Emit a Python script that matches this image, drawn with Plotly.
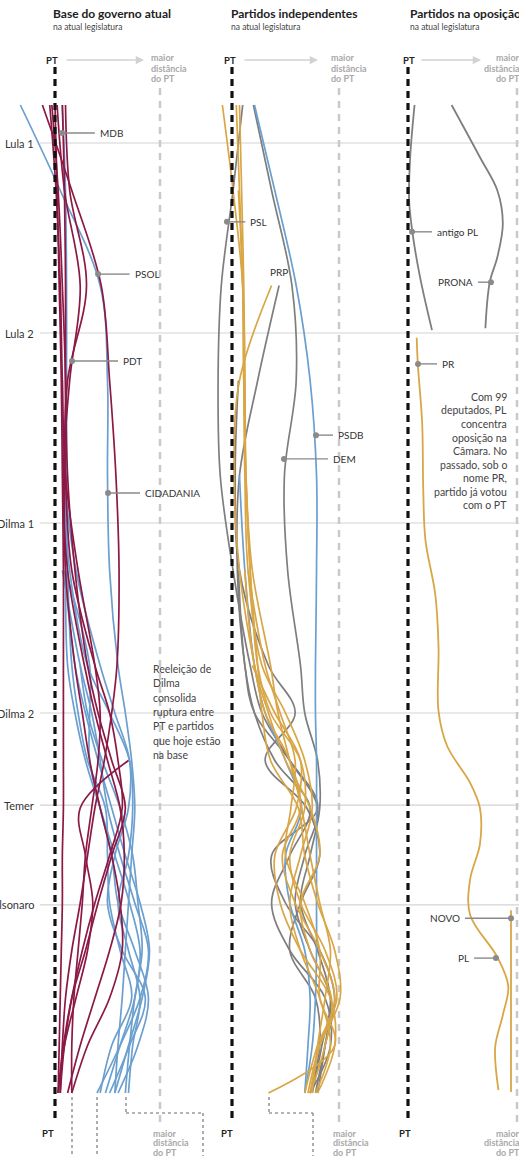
import plotly.graph_objects as go

W, H = 519, 1156
N = None

# ---------------- data ----------------
# time grid (years) shared by the first two panels
YEARS = [2002.2, 2004, 2006, 2008, 2010, 2012, 2014, 2015, 2016, 2017, 2018, 2019, 2020, 2021, 2022, 2023]

# distance from PT (0 = PT, 100 = greatest distance) -- "Base do governo atual"
BASE_BLUE = [
    [-33, 5, 43, 50, 50, 52, 60, 67, 73, 76, 73, 70, 67, 64, 60, 57],   # CIDADANIA
    [7, 10, 11, 11, 11, 10, 12, 19, 29, 43, 57, 71, 81, 76, 62, 48],    # MDB
    [N, N, N, N, N, 7, 24, 35, 43, 50, 62, 76, 89, 81, 62, 40],
    [N, N, N, N, N, 9, 19, 29, 41, 54, 67, 81, 90, 83, 70, 57],
    [N, N, N, N, N, N, 24, 31, 45, 62, 74, 79, 83, 76, 71, 67],
    [N, N, N, N, 8, 14, 31, 52, 71, 74, 70, 60, 70, 81, 74, 70],
    [N, N, N, N, N, 10, 33, 33, 33, 43, 54, 60, 76, 89, 79, 60],
    [N, N, N, N, 10, 12, 16, 22, 31, 48, 50, 52, 62, 73, 54, 43],
    [N, N, N, 7, 9, 20, 43, 57, 71, 70, 57, 50, 64, 86, 71, 52],
]
BASE_RED = [
    [-12, 16, 44, 52, 58, 61, 59, 54, 47, 38, 31, 24, 16, 10, 7, 5],   # PSOL
    [10, 14, 30, 12, 9, 10, 19, 26, 33, 43, 54, 62, 64, 52, 31, 16],   # PDT
    [2, 9, 24, 14, 8, 12, 28, 38, 50, 62, 66, 63, 52, 38, 24, 12],
    [0, 2, 4, 6, 7, 8, 8, 8, 8, 8, 7, 7, 6, 5, 4, 3],
    [N, N, N, N, N, N, N, N, 70, 24, 29, 36, 31, 20, 9, 3],
    [-3, 3, 7, 10, 10, 16, 38, 52, 60, 64, 52, 38, 26, 16, 9, 5],
    [-5, 1, 5, 7, 10, 22, 38, 43, 41, 35, 29, 26, 22, 18, 16, 16],
    [7, 9, 10, 10, 12, 19, 31, 41, 54, 67, 54, 41, 29, 16, 8, 3],
]

# "Partidos independentes"
INDEP_GRAY = [
    [10, 1, -10, -13, -11, 1, 17, 28, 54, 80, 68, 59, 73, 92, 84, 75],   # PSL
    [20, 37, 56, 60, 49, 52, 64, 68, 80, 82, 73, 64, 80, 92, 87, 80],    # DEM
    [N, N, 44, 24, 7, 5, 12, 21, 40, 73, 54, 37, 54, 87, 92, 73],        # PRP
    [N, N, N, 6, 3, 7, 34, 59, 31, 70, 82, 64, 54, 78, 82, 73],
    [N, N, N, N, N, 6, 12, 21, 54, 80, 37, 50, 82, 96, 87, 78],
]
INDEP_BLUE = [
    [21, 40, 60, 73, 79, 79, 78, 78, 79, 79, 79, 79, 79, 78, 75, 68],    # PSDB
    [N, N, N, N, 7, 12, 21, 31, 50, 65, 50, 54, 68, 73, 71, 68],
]
INDEP_ORANGE = [
    [-9, 1, 10, 12, 13, 17, 24, 36, 64, 68, 54, 64, 87, 98, 80, 68],
    [4, 7, 10, 11, 12, 15, 28, 50, 68, 75, 64, 54, 64, 82, 92, 78],
    [7, 9, 11, 12, 13, 19, 36, 43, 54, 65, 73, 82, 92, 87, 80, 75],
    [N, 6, 10, 11, 13, 17, 24, 28, 36, 62, 68, 80, 96, 101, 82, 71],
    [N, N, 37, 7, 2, 7, 21, 31, 54, 64, 47, 59, 82, 96, 82, 73],
    [N, N, N, N, N, 15, 31, 45, 59, 55, 50, 68, 82, 82, 96, 34],
    [N, N, N, N, N, N, 19, 40, 64, 60, 40, 45, 64, 92, 96, 80],
    [N, N, N, N, N, 12, 21, 34, 50, 73, 82, 64, 73, 93, 87, 73],
]

# "Partidos na oposição"
ANTIGO_PL_YEARS = [2002.2, 2003.3, 2004.2, 2004.87, 2005.82, 2006.94]
ANTIGO_PL = [6, 2, 1, 4, 11, 22]
PRONA_YEARS = [2002.2, 2003.3, 2004.0, 2004.7, 2005.4, 2005.93, 2006.9]
PRONA = [40, 66, 82, 87, 82, 75, 71]
PR_PL_YEARS = [2007.1, 2007.65, 2008.9, 2010.3, 2011.36, 2012.5, 2013.6, 2014.96, 2015.7,
               2016.47, 2017.0, 2017.76, 2018.5, 2019.25, 2020.14, 2020.75, 2021.36, 2022.03, 2022.94]
PR_PL = [8, 9, 13, 14, 16, 25, 28, 28, 36, 57, 66, 66, 57, 57, 82, 92, 87, 80, 83]
NOVO_YEARS = [2019.15, 2022.98]
NOVO = [94.5, 94.5]

PERIOD_NAMES = ["Lula 1", "Lula 2", "Dilma 1", "Dilma 2", "Temer", "Bolsonaro"]
PERIOD_YEARS = [2003, 2007, 2011, 2015, 2016.94, 2019.04]

# labelled parties: name, year, dot position, end of leader line
P1_NAMES = ["MDB", "PSOL", "PDT", "CIDADANIA"]
P1_YEARS = [2002.79, 2005.76, 2007.59, 2010.37]
P1_DOTS = [6.7, 41, 16.2, 50.5]
P1_ENDS = [38, 71, 60, 81]
P2_NAMES = ["PSL", "PSDB", "DEM"]
P2_YEARS = [2004.66, 2009.15, 2009.65]
P2_DOTS = [-4.7, 78.5, 48.6]
P2_ENDS = [12.5, 94.4, 89.7]
P3_NAMES = ["antigo PL", "PRONA", "PR", "NOVO", "PL"]
P3_YEARS = [2004.87, 2005.93, 2007.65, 2019.32, 2020.16]
P3_DOTS = [3.7, 76.1, 9.2, 94.5, 80.7]
P3_ENDS = [22, 64.2, 26.6, 52.3, 60.6]

TITLES = ["Base do governo atual", "Partidos independentes", "Partidos na oposição"]
SUBTITLE = "na atual legislatura"
NOTE_BASE = ["Reeleição de", "Dilma", "consolida", "ruptura entre", "PT e partidos",
             "que hoje estão", "na base"]
NOTE_OPP = ["Com 99", "deputados, PL", "concentra", "oposição na", "Câmara. No",
            "passado, sob o", "nome PR,", "partido já votou", "com o PT"]

# ---------------- styling / geometry ----------------
RED = "#8c1945"
BLUE = "#6b9fcf"
ORANGE = "#d9a646"
GRAY = "#7e7e7e"
DOT = "#8a8a8a"
FONT = "Lato, 'Open Sans', sans-serif"

PT_PX = [55, 232, 408]          # pixel position of the PT line in each panel
SCALE = [1.05, 1.07, 1.09]      # pixels per distance unit
EDGES = [0, 190, 365, W]
AX = ["x", "x2", "x3"]


def yr(p):
    return 2003 + (p - 143) / 47.5


def px(x):
    return x / W


def py(y):
    return 1 - y / H


fig = go.Figure()


def add_line(xs, ys, axis, color, width=1.7):
    fig.add_trace(go.Scatter(x=xs, y=ys, xaxis=axis, yaxis="y", mode="lines",
                             line=dict(color=color, width=width, shape="spline", smoothing=1),
                             hoverinfo="skip", showlegend=False, connectgaps=False))


for s in BASE_BLUE:
    add_line(s, YEARS, "x", BLUE)
for s in BASE_RED:
    add_line(s, YEARS, "x", RED)
for s in INDEP_GRAY:
    add_line(s, YEARS, "x2", GRAY)
for s in INDEP_BLUE:
    add_line(s, YEARS, "x2", BLUE)
for s in INDEP_ORANGE:
    add_line(s, YEARS, "x2", ORANGE)
add_line(ANTIGO_PL, ANTIGO_PL_YEARS, "x3", GRAY, 1.8)
add_line(PRONA, PRONA_YEARS, "x3", GRAY, 1.8)
add_line(PR_PL, PR_PL_YEARS, "x3", ORANGE, 1.8)
add_line(NOVO, NOVO_YEARS, "x3", ORANGE, 1.8)

annotations = []


def text(x, y, s, size=10, color="#333", anchor="left", bold=False, xref="paper", yref="paper", xshift=0):
    annotations.append(dict(x=x, y=y, xref=xref, yref=yref, text=("<b>%s</b>" % s) if bold else s,
                            showarrow=False, xanchor=anchor, yanchor="middle", xshift=xshift,
                            font=dict(family=FONT, size=size, color=color)))


for names, years, dots, ends, axis in [(P1_NAMES, P1_YEARS, P1_DOTS, P1_ENDS, "x"),
                                       (P2_NAMES, P2_YEARS, P2_DOTS, P2_ENDS, "x2"),
                                       (P3_NAMES, P3_YEARS, P3_DOTS, P3_ENDS, "x3")]:
    for n, y, d, e in zip(names, years, dots, ends):
        fig.add_trace(go.Scatter(x=[d, e], y=[y, y], xaxis=axis, yaxis="y", mode="lines",
                                 line=dict(color=DOT, width=1.4), hoverinfo="skip", showlegend=False))
        fig.add_trace(go.Scatter(x=[d], y=[y], xaxis=axis, yaxis="y", mode="markers",
                                 marker=dict(color=DOT, size=6), hoverinfo="skip", showlegend=False))
        right = e > d
        text(e, y, n, size=10, color="#333", anchor="left" if right else "right",
             xref=axis, yref="y", xshift=3 if right else -3)

# PRP label at the start of its line
text(INDEP_GRAY[2][2], YEARS[2], "PRP", size=10, color="#333", anchor="center",
     xref="x2", yref="y")
annotations[-1]["yanchor"] = "bottom"
annotations[-1]["yshift"] = 6

# period labels
for n, y in zip(PERIOD_NAMES, PERIOD_YEARS):
    text(px(36), y, n, size=11, color="#333", anchor="right", yref="y")

shapes = []
for y in PERIOD_YEARS:
    shapes.append(dict(type="line", xref="paper", yref="y", x0=px(40), x1=1, y0=y, y1=y,
                       line=dict(color="#d3d3d3", width=1.2), layer="below"))

for i, ax in enumerate(AX):
    shapes.append(dict(type="line", xref=ax, yref="y", x0=100, x1=100, y0=yr(88), y1=yr(1122),
                       line=dict(color="#c9c9c9", width=2.5, dash="7px,6px"), layer="below"))
    shapes.append(dict(type="line", xref=ax, yref="y", x0=0, x1=0, y0=yr(67), y1=yr(1122),
                       line=dict(color="#111", width=3.2, dash="7px,5px"), layer="above"))

# dotted connectors at the bottom
DOTTED = [
    [(72, 1097), (72, 1156)],
    [(97, 1097), (97, 1156)],
    [(126, 1097), (126, 1113), (203, 1113), (203, 1156)],
    [(269, 1097), (269, 1113), (313, 1113), (313, 1156)],
]
for path in DOTTED:
    for (xa, ya), (xb, yb) in zip(path[:-1], path[1:]):
        shapes.append(dict(type="line", xref="paper", yref="paper", x0=px(xa), x1=px(xb),
                           y0=py(ya), y1=py(yb), line=dict(color="#9a9a9a", width=1.6, dash="dot")))

# titles and headers
TITLE_X = [52, 230, 409]
for tx, t in zip(TITLE_X, TITLES):
    text(px(tx) - 0.002, py(13), t, size=12, color="#222", bold=True)
    text(px(tx) - 0.002, py(27), SUBTITLE, size=8.5, color="#444")

PT_LABEL_X = [52, 230, 409]
ARROWS = [(65, 144), (243, 318), (420, 481)]
for i in range(3):
    text(px(PT_LABEL_X[i]), py(60), "PT", size=9.5, color="#222", anchor="center", bold=True)
    a0, a1 = ARROWS[i]
    annotations.append(dict(x=px(a1), y=py(60), xref="paper", yref="paper", ax=a0 - a1, ay=0,
                            text="", showarrow=True, arrowhead=2, arrowsize=1.1, arrowwidth=1.5,
                            arrowcolor="#d2d2d2"))

MAX_TXT = ["maior", "distância", "do PT"]
for (mx, anchor) in [(149, "left"), (329, "left"), (522, "right")]:
    for k, line in enumerate(MAX_TXT):
        text(px(mx), py(58 + 10 * k), line, size=9, color="#a9a9a9", anchor=anchor, bold=True)
        text(px(mx + 2 if anchor == "left" else mx), py(1133 + 9.7 * k), line, size=9,
             color="#a9a9a9", anchor=anchor, bold=True)

for bx in [48, 227, 405]:
    text(px(bx), py(1133), "PT", size=9.5, color="#222", anchor="center", bold=True)

for k, line in enumerate(NOTE_BASE):
    text(px(151), py(669 + 14.3 * k), line, size=10.5, color="#444", anchor="left")
for k, line in enumerate(NOTE_OPP):
    text(px(509), py(397 + 13.5 * k), line, size=10.5, color="#444", anchor="right")

layout_axes = {}
for i, ax in enumerate(AX):
    name = "xaxis" if i == 0 else "xaxis%d" % (i + 1)
    lo = (EDGES[i] - PT_PX[i]) / SCALE[i]
    hi = (EDGES[i + 1] - PT_PX[i]) / SCALE[i]
    layout_axes[name] = dict(domain=[EDGES[i] / W, EDGES[i + 1] / W], range=[lo, hi], anchor="y",
                             visible=False, fixedrange=True)

fig.update_layout(
    width=W, height=H, autosize=False,
    margin=dict(l=0, r=0, t=0, b=0, pad=0),
    paper_bgcolor="white", plot_bgcolor="white",
    yaxis=dict(domain=[0, 1], range=[yr(H), yr(0)], visible=False, anchor="x", fixedrange=True),
    annotations=annotations, shapes=shapes, showlegend=False,
    font=dict(family=FONT),
    **layout_axes,
)

fig.write_html("out.html", config={"displayModeBar": False},
               post_script="document.body.style.margin='0';document.body.style.overflow='hidden';")
